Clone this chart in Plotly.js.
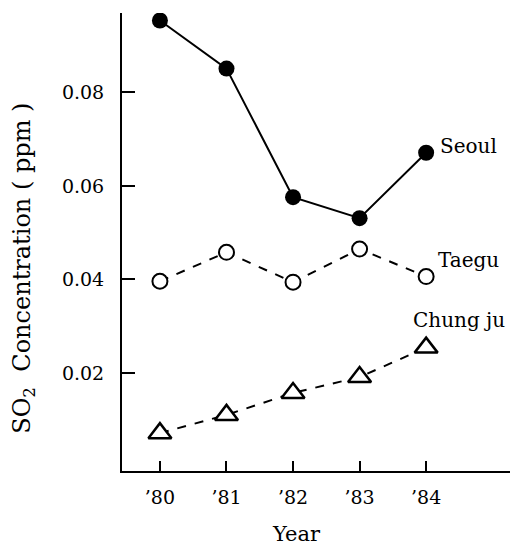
<!DOCTYPE html>
<html><head><meta charset="utf-8">
<script src="https://cdn.plot.ly/plotly-3.0.1.min.js"></script>
<style>body{margin:0;padding:0;background:#fff}#c{width:513px;height:545px}</style>
</head><body><div id="c"></div>
<script>
const years = [80, 81, 82, 83, 84];
const yearLabels = ["’80", "’81", "’82", "’83", "’84"];
const seoul = [0.0954, 0.0851, 0.0576, 0.0531, 0.0671];
const taegu = [0.0396, 0.0458, 0.0394, 0.0465, 0.0406];
const chungju = [0.0071, 0.0110, 0.0157, 0.0191, 0.0254];
const yTicks = [0.02, 0.04, 0.06, 0.08];
const yTickLabels = ["0.02", "0.04", "0.06", "0.08"];

const F = "DejaVu Serif, serif";
const traces = [
  {x: years, y: seoul, mode: "lines+markers", line: {color: "#000", width: 2},
   marker: {symbol: "circle", size: 16, color: "#000"}},
  {x: years, y: taegu, mode: "lines+markers", line: {color: "#000", width: 2, dash: "dash"},
   marker: {symbol: "circle", size: 15, color: "#fff", line: {width: 2, color: "#000"}}},
  {x: years, y: chungju, mode: "lines+markers", line: {color: "#000", width: 2, dash: "dash"},
   marker: {symbol: "triangle-up", size: 20, color: "#fff", line: {width: 2.5, color: "#000"}}}
];
const layout = {
  width: 513, height: 545, showlegend: false,
  paper_bgcolor: "#fff", plot_bgcolor: "#fff",
  margin: {l: 122, r: 3, t: 13, b: 74},
  font: {family: F, color: "#000", size: 18},
  xaxis: {range: [79.43, 85.26], tickvals: years, ticktext: yearLabels, ticks: "inside", ticklen: 10,
          tickwidth: 2, tickcolor: "#000", showline: true, linecolor: "#000", linewidth: 2,
          showgrid: false, zeroline: false, tickfont: {family: F, size: 19}, ticklabelstandoff: 8},
  yaxis: {range: [-0.001, 0.097], tickvals: yTicks, ticktext: yTickLabels, ticks: "inside", ticklen: 13,
          tickwidth: 2, tickcolor: "#000", showline: true, linecolor: "#000", linewidth: 2,
          showgrid: false, zeroline: false, tickfont: {family: F, size: 19}, ticklabelstandoff: 12},
  annotations: [
    {x: 0.451, y: -0.138, xref: "paper", yref: "paper", text: "Year", showarrow: false, xanchor: "center", yanchor: "middle", font: {family: F, size: 21}},
    {x: -0.256, y: 0.443, xref: "paper", yref: "paper", text: "SO<sub>2</sub>  Concentration ( ppm )", textangle: -90, showarrow: false, xanchor: "center", yanchor: "middle", font: {family: F, size: 24}},
    {x: 84, y: 0.0686, xref: "x", yref: "y", text: "Seoul", showarrow: false, xanchor: "left", xshift: 12, font: {family: F, size: 20}},
    {x: 84, y: 0.0441, xref: "x", yref: "y", text: "Taegu", showarrow: false, xanchor: "left", xshift: 10, font: {family: F, size: 20}},
    {x: 84, y: 0.0314, xref: "x", yref: "y", text: "Chung ju", showarrow: false, xanchor: "left", xshift: -15, font: {family: F, size: 20}}
  ]
};
Plotly.newPlot("c", traces, layout, {displayModeBar: false, staticPlot: true});
</script></body></html>
